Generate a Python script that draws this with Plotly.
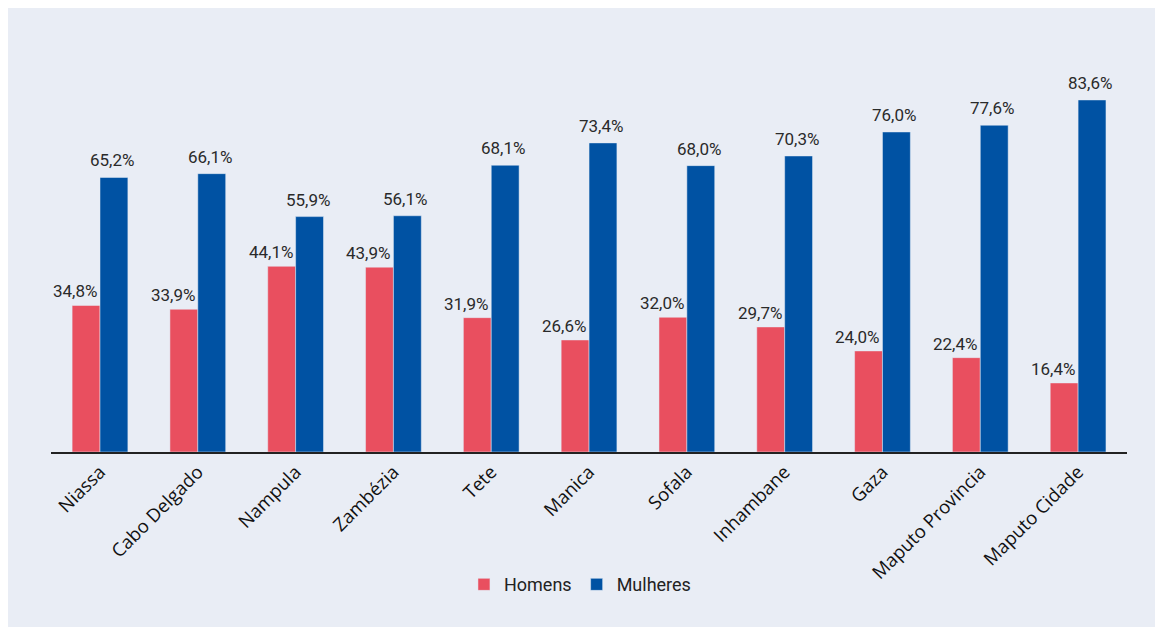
import plotly.graph_objects as go

provinces = [
    "Niassa", "Cabo Delgado", "Nampula", "Zambézia", "Tete", "Manica",
    "Sofala", "Inhambane", "Gaza", "Maputo Provincia", "Maputo Cidade",
]
homens = [34.8, 33.9, 44.1, 43.9, 31.9, 26.6, 32.0, 29.7, 24.0, 22.4, 16.4]
mulheres = [65.2, 66.1, 55.9, 56.1, 68.1, 73.4, 68.0, 70.3, 76.0, 77.6, 83.6]

RED = "#e94f5f"
BLUE = "#0052a3"
BG = "#e9edf5"
LABEL_FONT = dict(family="Roboto", size=17, color="#2a2a2a")


def pct(v):
    return f"{v:.1f}%".replace(".", ",")


fig = go.Figure()
fig.add_trace(go.Bar(name="Homens", x=provinces, y=homens, marker_color=RED))
fig.add_trace(go.Bar(name="Mulheres", x=provinces, y=mulheres, marker_color=BLUE))

# value labels; red ones sit a little left of their bars
for p, v in zip(provinces, homens):
    fig.add_annotation(x=p, y=v, text=pct(v), showarrow=False, yanchor="bottom",
                       xshift=-25, yshift=2, font=LABEL_FONT)
for p, v in zip(provinces, mulheres):
    fig.add_annotation(x=p, y=v, text=pct(v), showarrow=False, yanchor="bottom",
                       xshift=12, yshift=5, font=LABEL_FONT)

fig.update_layout(
    width=1147, height=619,
    margin=dict(l=43, r=28, t=65, b=175),
    paper_bgcolor=BG, plot_bgcolor=BG,
    barmode="group", bargap=0.43, bargroupgap=0,
    showlegend=True,
    legend=dict(
        orientation="h", x=0.4916, xanchor="center", y=-0.35, yanchor="middle",
        font=dict(family="Roboto", size=18, color="#222"),
        itemwidth=30, traceorder="normal",
    ),
    xaxis=dict(
        tickangle=-45, showline=True, linecolor="#222", linewidth=2,
        tickfont=dict(family="Open Sans", size=18.5, color="#111"),
        showgrid=False, ticks="",
    ),
    yaxis=dict(range=[0, 90], visible=False, showgrid=False),
)

fig.write_html("out.html")
